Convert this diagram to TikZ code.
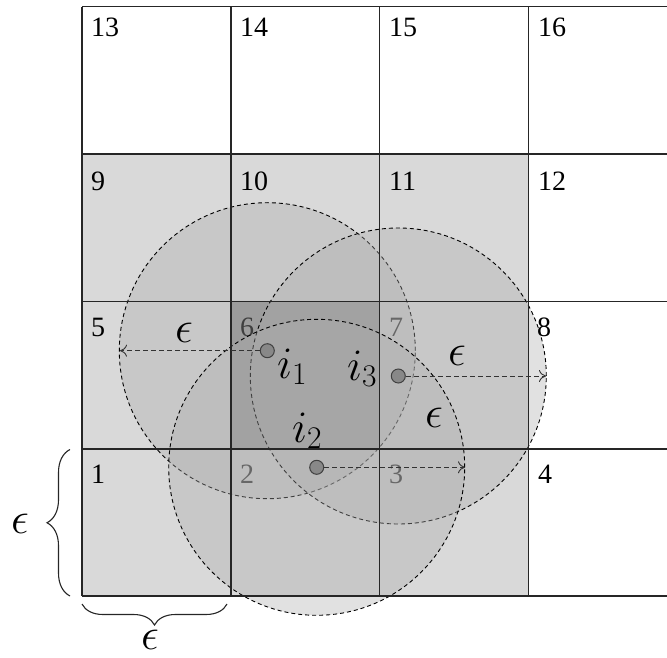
\documentclass[tikz,border=0pt]{standalone}
\usepackage{fix-cm}
\usepackage{fontspec}
\setmainfont{Liberation Serif}
\usetikzlibrary{decorations.pathreplacing,arrows.meta}
\definecolor{cellgray}{HTML}{D9D9D9}
\definecolor{celldark}{HTML}{939393}
\definecolor{circfill}{HTML}{ADADAD}
\definecolor{ptfill}{HTML}{888888}
\begin{document}
\begin{tikzpicture}[x=1pt,y=-1pt,
  gridline/.style={draw=black!85,line width=1.5pt},
  num/.style={anchor=base west,inner sep=0pt,font=\fontsize{28}{30}\selectfont},
  mlab/.style={anchor=base west,inner sep=0pt,font=\fontsize{45}{48}\selectfont},
  zone/.style={circle,minimum size=296pt,inner sep=0pt,fill=circfill,fill opacity=0.37,draw=black,dash pattern=on 4pt off 3pt,line width=0.9pt},
  pt/.style={circle,minimum size=14pt,inner sep=0pt,fill=ptfill,draw=black!75,line width=1pt},
  arr/.style={draw=black!80,dash pattern=on 5pt off 3pt,line width=0.9pt,-{To[length=7pt,width=12pt]}},
  bracestyle/.style={draw=black!85,line width=1.1pt,decorate}
]
\useasboundingbox (0,0) rectangle (667,658);
% shaded cells
\fill[cellgray] (82,154) rectangle (528.4,596);
\fill[celldark] (230.8,301.3) rectangle (379.6,449);
% cell numbers
\node[num] (n13) at (91,37) {13};
\node[num] (n14) at (240,37) {14};
\node[num] (n15) at (389,37) {15};
\node[num] (n16) at (538,37) {16};
\node[num] (n9) at (91,190) {9};
\node[num] (n10) at (240,190) {10};
\node[num] (n11) at (389,190) {11};
\node[num] (n12) at (538,190) {12};
\node[num] (n5) at (91,336) {5};
\node[num] (n6) at (240,336) {6};
\node[num] (n7) at (389,336) {7};
\node[num] (n1) at (91,483) {1};
\node[num] (n2) at (240,483) {2};
\node[num] (n3) at (389,483) {3};
\node[num] (n4) at (538,483) {4};
% circles
\node[zone] (c1) at (267.3,350.7) {};
\node[zone] (c3) at (398.3,376) {};
\node[zone] (c2) at (316.7,467.3) {};
\node[num] (n8) at (537,336) {8};
% grid
\foreach \x in {82,230.8,379.6,528.4} \draw[gridline] (\x,6.7) -- (\x,596);
\foreach \y in {6.7,154,301.3,449,596} \draw[gridline] (82,\y) -- (667,\y);
% points and arrows
\node[pt] (p1) at (267.3,350.7) {};
\node[pt] (p3) at (398.3,376) {};
\node[pt] (p2) at (316.7,467.3) {};
\coordinate (e1) at (120,350.7);
\coordinate (e3) at (546,376);
\coordinate (e2) at (465,467.3);
\draw[arr] (p1) -- (e1);
\draw[arr] (p3) -- (e3);
\draw[arr] (p2) -- (e2);
% math labels
\node[mlab] (l1) at (277,378) {$i_1$};
\node[mlab] (l3) at (347,380) {$i_3$};
\node[mlab] (l2) at (292,442) {$i_2$};
\node[mlab] (eps1) at (175,342) {$\epsilon$};
\node[mlab] (eps3) at (448,365) {$\epsilon$};
\node[mlab] (eps2) at (425,427) {$\epsilon$};
% braces
\coordinate (bl1) at (70,596);
\coordinate (bl2) at (70,449.5);
\draw[bracestyle,decoration={brace,amplitude=23pt}] (bl1) -- (bl2);
\node[mlab] (epsl) at (11,533) {$\epsilon$};
\coordinate (bb1) at (227,604);
\coordinate (bb2) at (82,604);
\draw[bracestyle,decoration={brace,amplitude=21pt}] (bb1) -- (bb2);
\node[mlab] (epsb) at (141,649) {$\epsilon$};
\end{tikzpicture}
\end{document}
